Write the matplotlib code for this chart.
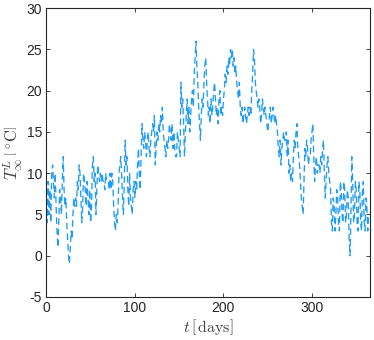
import numpy as np
import matplotlib
matplotlib.use("Agg")
import matplotlib.pyplot as plt

plt.rcParams['font.family'] = ['Liberation Sans', 'DejaVu Sans']
plt.rcParams['axes.unicode_minus'] = False
plt.rcParams['mathtext.fontset'] = 'cm'

# Daily temperature values (deg C), days 0..364
temp_jan_mar = [
    7, 4, 9, 5, 8, 4, 10, 11, 9, 7,
    10, 6, 3, 1, 4, 8, 7, 5, 9, 12,
    8, 6, 7, 4, 2, 0, -1, 1, 3, 2,
    5, 7, 6, 7, 6, 9, 8, 11, 10, 7,
    4, 6, 10, 9, 8, 6, 9, 7, 5, 8,
    4, 6, 11, 12, 9, 10, 5, 8, 11, 10,
    9, 10, 9, 10, 9, 9, 8, 10, 9, 9,
    9, 8, 10, 8, 10, 9, 6, 4, 3, 5,
    4, 6, 10, 11, 12, 10, 7, 5, 9, 14,
]
temp_apr_jun = [
    11, 12, 8, 6, 10, 7, 6, 5, 8, 9,
    7, 9, 8, 11, 13, 10, 8, 12, 16, 14,
    13, 15, 14, 12, 14, 15, 13, 12, 14, 15,
    16, 15, 17, 11, 13, 15, 14, 16, 15, 17,
    16, 18, 15, 14, 13, 12, 14, 13, 14, 16,
    15, 14, 16, 13, 15, 13, 12, 12, 15, 14,
    13, 12, 21, 18, 19, 16, 12, 15, 17, 19,
    16, 18, 15, 17, 19, 20, 18, 22, 24, 26,
    23, 21, 18, 16, 14, 17, 19, 18, 21, 23,
]
temp_jul_sep = [
    24, 21, 19, 17, 18, 16, 19, 17, 18, 20,
    21, 19, 17, 18, 16, 19, 20, 17, 18, 17,
    19, 20, 22, 21, 23, 22, 24, 23, 25, 24,
    25, 23, 24, 22, 23, 21, 20, 19, 21, 18,
    17, 18, 16, 17, 18, 17, 16, 17, 18, 17,
    18, 17, 20, 22, 25, 24, 21, 20, 19, 18,
    19, 18, 16, 17, 19, 18, 17, 18, 17, 16,
    15, 16, 17, 18, 16, 17, 18, 17, 16, 17,
    16, 15, 13, 12, 14, 11, 13, 14, 15, 14,
]
temp_oct_dec = [
    14, 15, 12, 14, 10, 11, 9, 10, 9, 12,
    14, 13, 15, 16, 13, 12, 11, 9, 7, 6,
    5, 9, 13, 12, 14, 13, 11, 12, 12, 14,
    15, 16, 12, 9, 11, 12, 10, 11, 11, 10,
    12, 11, 13, 14, 10, 7, 9, 11, 12, 10,
    9, 8, 4, 3, 7, 6, 3, 5, 8, 7,
    4, 3, 9, 8, 5, 4, 9, 8, 4, 5,
    8, 7, 2, 0, 5, 12, 9, 4, 5, 9,
    8, 4, 3, 9, 8, 4, 3, 8, 9, 4,
    3, 7, 6, 3, 5,
]
temperature = temp_jan_mar + temp_apr_jun + temp_jul_sep + temp_oct_dec
days = list(range(len(temperature)))

x_ticks = [0, 100, 200, 300]
y_ticks = [-5, 0, 5, 10, 15, 20, 25, 30]

fig = plt.figure(figsize=(3.74, 3.40), dpi=100)
ax = fig.add_axes([0.124, 0.1265, 0.864, 0.8495])
ax.plot(days, temperature, color='#1f9cf5', lw=0.95, dashes=[5, 3])

ax.set_xlim(0, 365)
ax.set_ylim(-5, 30)
ax.set_xticks(x_ticks)
ax.set_yticks(y_ticks)
ax.set_xticklabels([str(v) for v in x_ticks])
ax.set_yticklabels([str(v) for v in y_ticks])
ax.tick_params(direction='in', length=3, width=0.6, top=True, right=True,
               labelsize=10, colors='#262626', pad=3)
for s in ax.spines.values():
    s.set_color('#262626')
    s.set_linewidth(0.8)

ax.set_xlabel(r'$t\,\left[\,\mathrm{days}\right]$', fontsize=11.5, color='#404040', labelpad=1)
ax.set_ylabel(r'$T^{L}_{\infty}\,\left[\,^{\circ}\mathrm{C}\right]$', fontsize=12, color='#404040', labelpad=1)

fig.savefig('out.png', dpi=100)
